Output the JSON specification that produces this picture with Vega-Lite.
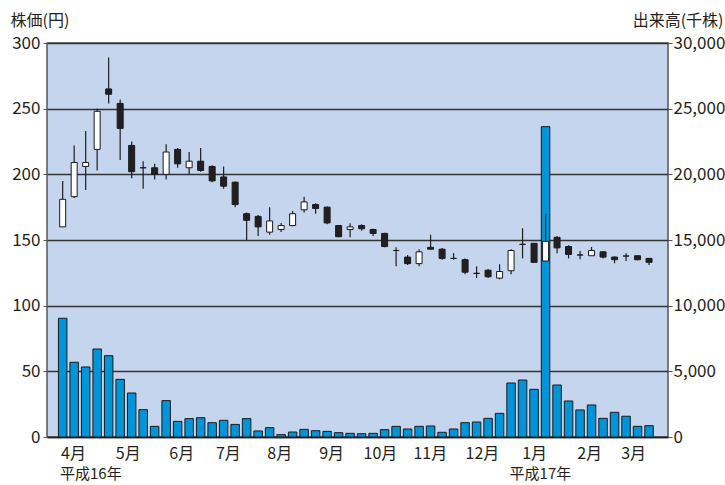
{
  "$schema": "https://vega.github.io/schema/vega-lite/v6.json",
  "width": 621,
  "height": 394,
  "autosize": {"type": "none"},
  "padding": {"left": 47, "top": 43, "right": 57, "bottom": 48},
  "background": "#ffffff",
  "config": {
    "view": {"fill": "#c6d5ee", "stroke": "#555555", "strokeWidth": 1.5},
    "axis": {
      "labelFont": "'Liberation Sans Narrow', 'Noto Sans CJK JP', sans-serif",
      "labelFontSize": 17,
      "labelColor": "#231f20",
      "titleFont": "'Noto Sans CJK JP', sans-serif",
      "titleFontWeight": "normal",
      "titleFontSize": 16,
      "titleColor": "#231f20"
    }
  },
  "data": {"values": [
    {"date": "2004-04-05", "open": 160, "high": 195, "low": 160, "close": 181, "volume": 9040},
    {"date": "2004-04-12", "open": 183, "high": 222, "low": 182, "close": 209, "volume": 5690},
    {"date": "2004-04-19", "open": 206, "high": 233, "low": 188, "close": 209, "volume": 5330},
    {"date": "2004-04-26", "open": 219, "high": 250, "low": 203, "close": 248, "volume": 6700},
    {"date": "2004-05-03", "open": 265, "high": 289, "low": 254, "close": 261, "volume": 6190},
    {"date": "2004-05-10", "open": 254, "high": 257, "low": 211, "close": 235, "volume": 4390},
    {"date": "2004-05-17", "open": 222, "high": 225, "low": 197, "close": 202, "volume": 3350},
    {"date": "2004-05-24", "open": 205, "high": 210, "low": 189, "close": 205, "volume": 2080},
    {"date": "2004-05-31", "open": 205, "high": 208, "low": 196, "close": 200, "volume": 810},
    {"date": "2004-06-07", "open": 200, "high": 223, "low": 196, "close": 217, "volume": 2770},
    {"date": "2004-06-14", "open": 219, "high": 220, "low": 205, "close": 208, "volume": 1190},
    {"date": "2004-06-21", "open": 205, "high": 217, "low": 200, "close": 210, "volume": 1400},
    {"date": "2004-06-28", "open": 210, "high": 220, "low": 202, "close": 203, "volume": 1470},
    {"date": "2004-07-05", "open": 206, "high": 207, "low": 194, "close": 195, "volume": 1090},
    {"date": "2004-07-12", "open": 198, "high": 206, "low": 189, "close": 191, "volume": 1270},
    {"date": "2004-07-19", "open": 194, "high": 194.5, "low": 175, "close": 177, "volume": 960},
    {"date": "2004-07-26", "open": 170, "high": 171, "low": 150, "close": 165, "volume": 1400},
    {"date": "2004-08-02", "open": 168, "high": 169, "low": 153, "close": 160, "volume": 460},
    {"date": "2004-08-09", "open": 156, "high": 175, "low": 154, "close": 164.5, "volume": 710},
    {"date": "2004-08-16", "open": 158, "high": 163, "low": 156, "close": 161, "volume": 180},
    {"date": "2004-08-23", "open": 161, "high": 172, "low": 160.5, "close": 170, "volume": 380},
    {"date": "2004-08-30", "open": 173, "high": 183, "low": 171, "close": 179, "volume": 580},
    {"date": "2004-09-06", "open": 177, "high": 178, "low": 170, "close": 174, "volume": 480},
    {"date": "2004-09-13", "open": 175, "high": 175.5, "low": 162, "close": 163, "volume": 430},
    {"date": "2004-09-20", "open": 161, "high": 161.5, "low": 152, "close": 152.5, "volume": 330},
    {"date": "2004-09-27", "open": 158, "high": 162.7, "low": 152, "close": 160, "volume": 280},
    {"date": "2004-10-04", "open": 161, "high": 162, "low": 157, "close": 158.6, "volume": 250},
    {"date": "2004-10-11", "open": 158, "high": 158.6, "low": 153, "close": 155, "volume": 280},
    {"date": "2004-10-18", "open": 155, "high": 155.5, "low": 144.5, "close": 145, "volume": 560},
    {"date": "2004-10-25", "open": 142, "high": 144.5, "low": 130, "close": 142, "volume": 810},
    {"date": "2004-11-01", "open": 137, "high": 138.6, "low": 131, "close": 132, "volume": 610},
    {"date": "2004-11-08", "open": 132, "high": 143, "low": 130, "close": 141, "volume": 810},
    {"date": "2004-11-15", "open": 144.4, "high": 154, "low": 143, "close": 143, "volume": 840},
    {"date": "2004-11-22", "open": 143, "high": 144, "low": 135, "close": 136, "volume": 360},
    {"date": "2004-11-29", "open": 136, "high": 140, "low": 135, "close": 136, "volume": 610},
    {"date": "2004-12-06", "open": 135, "high": 136, "low": 124, "close": 125.5, "volume": 1090},
    {"date": "2004-12-13", "open": 124.6, "high": 130, "low": 121, "close": 124.6, "volume": 1140},
    {"date": "2004-12-20", "open": 127, "high": 128, "low": 121, "close": 122, "volume": 1420},
    {"date": "2004-12-27", "open": 121, "high": 131.5, "low": 120, "close": 126, "volume": 1800},
    {"date": "2005-01-03", "open": 126.6, "high": 143, "low": 124, "close": 142, "volume": 4110},
    {"date": "2005-01-10", "open": 146.7, "high": 159, "low": 136, "close": 146.7, "volume": 4340},
    {"date": "2005-01-17", "open": 147.5, "high": 147.5, "low": 132.7, "close": 133, "volume": 3630},
    {"date": "2005-01-24", "open": 134, "high": 170, "low": 134, "close": 149, "volume": 23630},
    {"date": "2005-01-31", "open": 152, "high": 153, "low": 140, "close": 144, "volume": 3960},
    {"date": "2005-02-07", "open": 145, "high": 146, "low": 136, "close": 139, "volume": 2740},
    {"date": "2005-02-14", "open": 138.6, "high": 141.6, "low": 135.3, "close": 138.6, "volume": 2060},
    {"date": "2005-02-21", "open": 138, "high": 144.7, "low": 137.8, "close": 142, "volume": 2440},
    {"date": "2005-02-28", "open": 141, "high": 141.5, "low": 136, "close": 137, "volume": 1420},
    {"date": "2005-03-07", "open": 137, "high": 137.6, "low": 132.3, "close": 135, "volume": 1880},
    {"date": "2005-03-14", "open": 137.8, "high": 140, "low": 134, "close": 137.8, "volume": 1580},
    {"date": "2005-03-21", "open": 138, "high": 138.3, "low": 134.5, "close": 135, "volume": 810},
    {"date": "2005-03-28", "open": 136, "high": 136.3, "low": 131, "close": 133, "volume": 860}
  ]},
  "resolve": {"scale": {"y": "independent"}, "axis": {"x": "independent"}},
  "layer": [
    {
      "mark": {"type": "bar", "size": 8.5, "fill": "#0095d9", "stroke": "#1a1a1a", "strokeWidth": 1},
      "encoding": {
        "x": {
          "field": "date", "type": "temporal",
          "scale": {"type": "utc", "domain": [
            {"year": 2004, "month": 3, "date": 29, "hours": 12, "utc": true},
            {"year": 2005, "month": 4, "date": 5, "hours": 12, "utc": true}
          ]},
          "axis": {
            "orient": "bottom",
            "title": null,
            "grid": false,
            "ticks": false,
            "tickSize": 0,
            "domain": true,
            "domainColor": "#231f20",
            "domainWidth": 1.5,
            "labelPadding": 8,
            "labelFontSize": 16,
            "labelExpr": "(utcmonth(datum.value) + 1) + '月'",
            "values": [
              {"year": 2004, "month": 4, "date": 11, "hours": 6, "utc": true},
              {"year": 2004, "month": 5, "date": 14, "hours": 15, "utc": true},
              {"year": 2004, "month": 6, "date": 16, "hours": 4, "utc": true},
              {"year": 2004, "month": 7, "date": 14, "hours": 13, "utc": true},
              {"year": 2004, "month": 8, "date": 14, "hours": 21, "utc": true},
              {"year": 2004, "month": 9, "date": 15, "hours": 10, "utc": true},
              {"year": 2004, "month": 10, "date": 15, "hours": 3, "utc": true},
              {"year": 2004, "month": 11, "date": 14, "hours": 12, "utc": true},
              {"year": 2004, "month": 12, "date": 16, "hours": 6, "utc": true},
              {"year": 2005, "month": 1, "date": 17, "hours": 0, "utc": true},
              {"year": 2005, "month": 2, "date": 19, "hours": 13, "utc": true},
              {"year": 2005, "month": 3, "date": 18, "hours": 8, "utc": true}
            ]
          }
        },
        "y": {
          "field": "volume", "type": "quantitative",
          "scale": {"domain": [0, 30000], "nice": false, "zero": true},
          "axis": {
            "orient": "right",
            "values": [0, 5000, 10000, 15000, 20000, 25000, 30000],
            "labelExpr": "format(datum.value, ',')",
            "grid": false,
            "domain": false,
            "ticks": true,
            "tickSize": 4,
            "tickColor": "#555555",
            "labelPadding": 1,
            "title": "出来高(千株)",
            "titleAngle": 0,
            "titleAlign": "right",
            "titleBaseline": "alphabetic",
            "titleX": 55,
            "titleY": -18
          }
        }
      }
    },
    {
      "layer": [
        {
          "mark": {"type": "rule", "color": "#1e1e1e", "strokeWidth": 1.2},
          "encoding": {
            "x": {
              "field": "date", "type": "temporal",
              "scale": {"type": "utc", "domain": [
                {"year": 2004, "month": 3, "date": 29, "hours": 12, "utc": true},
                {"year": 2005, "month": 4, "date": 5, "hours": 12, "utc": true}
              ]},
              "axis": {
                "orient": "bottom",
                "title": null,
                "grid": false,
                "ticks": false,
                "tickSize": 0,
                "domain": false,
                "labelPadding": 29,
                "labelFontSize": 15,
                "labelExpr": "utcyear(datum.value) == 2004 ? '平成16年' : '平成17年'",
                "values": [
                  {"year": 2004, "month": 4, "date": 21, "hours": 20, "utc": true},
                  {"year": 2005, "month": 1, "date": 20, "hours": 14, "utc": true}
                ]
              }
            },
            "y": {
              "field": "low", "type": "quantitative",
              "scale": {"domain": [0, 300], "nice": false, "zero": true},
              "axis": {
                "orient": "left",
                "values": [0, 50, 100, 150, 200, 250, 300],
                "grid": true,
                "gridColor": "#333333",
                "gridWidth": 1.3,
                "domain": false,
                "ticks": true,
                "tickSize": 4,
                "tickColor": "#555555",
                "labelPadding": 3,
                "title": "株価(円)",
                "titleAngle": 0,
                "titleAlign": "left",
                "titleBaseline": "alphabetic",
                "titleX": -37,
                "titleY": -18
              }
            },
            "y2": {"field": "high"}
          }
        },
        {
          "mark": {"type": "bar", "size": 6, "stroke": "#1a1a1a", "strokeWidth": 1},
          "encoding": {
            "x": {"field": "date", "type": "temporal"},
            "y": {"field": "open", "type": "quantitative"},
            "y2": {"field": "close"},
            "fill": {"condition": {"test": "datum.close > datum.open", "value": "#ffffff"}, "value": "#231f20"}
          }
        }
      ]
    }
  ]
}
